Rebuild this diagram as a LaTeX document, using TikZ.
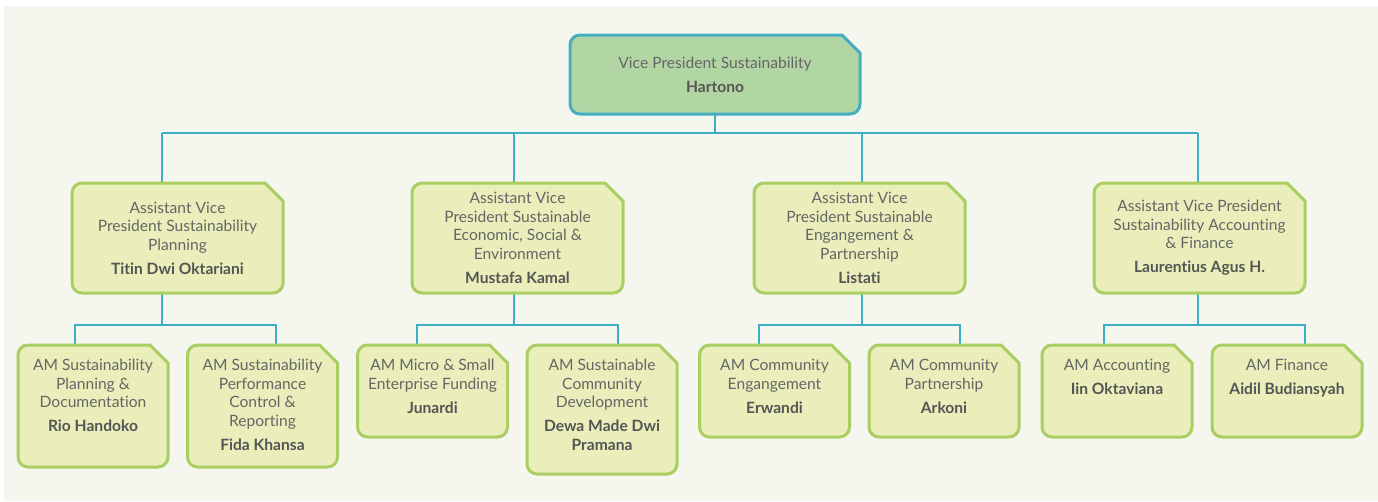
\documentclass[tikz,border=0pt]{standalone}
\usepackage{fontspec}
\setmainfont[Ligatures={NoCommon}]{Lato}
\definecolor{bgc}{HTML}{F5F7EF}
\definecolor{boxfill}{HTML}{E9EEBA}
\definecolor{boxdraw}{HTML}{AACE62}
\definecolor{topfill}{HTML}{B2D6A3}
\definecolor{topdraw}{HTML}{46AEC1}
\definecolor{connc}{HTML}{3DAFC4}
\definecolor{txtc}{HTML}{666666}
\definecolor{namec}{HTML}{555555}
\newcommand\chamferbox[2]{%
  \path[#2] (#1.west) -- ([yshift=-10pt]#1.north west)
    arc[start angle=180,end angle=90,radius=10pt]
    -- ([xshift=-18pt]#1.north east) -- ([yshift=-18pt]#1.north east)
    -- ([yshift=10pt]#1.south east)
    arc[start angle=0,end angle=-90,radius=10pt]
    -- ([xshift=10pt]#1.south west)
    arc[start angle=270,end angle=180,radius=10pt] -- cycle;}
\newcommand\nm[1]{{\bfseries\color{namec}#1}}
\begin{document}
\begin{tikzpicture}[x=1pt,y=-1pt,
  frame/.style={inner sep=0pt,outer sep=0pt,draw=none,minimum width=#1},
  frame/.default=150pt,
  greenbox/.style={fill=boxfill,draw=boxdraw,line width=3pt,line join=round},
  tealbox/.style={fill=topfill,draw=topdraw,line width=3pt,line join=round},
  conn/.style={draw=connc,line width=2.5pt},
  txt/.style={inner sep=0pt,align=center,text=txtc,font=\fontsize{15.6}{18.5}\selectfont}]
\useasboundingbox (0,0) rectangle (1378,501);
\fill[bgc] (4,6) rectangle (1378,501);
% box frames
\node[frame=290pt,minimum height=79pt] (top) at (715,74.5) {};
\node[frame=211pt,minimum height=110pt] (a1) at (177.5,238) {};
\node[frame=211pt,minimum height=110pt] (a2) at (517.5,238) {};
\node[frame=211pt,minimum height=110pt] (a3) at (859.5,238) {};
\node[frame=211pt,minimum height=110pt] (a4) at (1199.5,238) {};
\node[frame,minimum height=122pt] (c1) at (93,406) {};
\node[frame,minimum height=122pt] (c2) at (262.5,406) {};
\node[frame,minimum height=92pt] (c3) at (432.5,391) {};
\node[frame,minimum height=129pt] (c4) at (602,409.5) {};
\node[frame,minimum height=92pt] (c5) at (774.5,391) {};
\node[frame,minimum height=92pt] (c6) at (944,391) {};
\node[frame,minimum height=92pt] (c7) at (1117,391) {};
\node[frame,minimum height=92pt] (c8) at (1287,391) {};
% connectors
\coordinate (bus) at (715,133);
\coordinate (j1) at (162,133);
\coordinate (j2) at (514,133);
\coordinate (j3) at (862,133);
\coordinate (j4) at (1198,133);
\draw[conn] (top.south) -- (bus);
\draw[conn] (j1) -- (j4);
\draw[conn] (j1) -- (j1 |- a1.north);
\draw[conn] (j2) -- (j2 |- a2.north);
\draw[conn] (j3) -- (j3 |- a3.north);
\draw[conn] (j4) -- (j4 |- a4.north);
\coordinate (k1) at (162,325);
\coordinate (k2) at (514,325);
\coordinate (k3) at (862,325);
\coordinate (k4) at (1198,325);
\draw[conn] (k1 |- a1.south) -- (k1);
\draw[conn] (k2 |- a2.south) -- (k2);
\draw[conn] (k3 |- a3.south) -- (k3);
\draw[conn] (k4 |- a4.south) -- (k4);
\coordinate (l1) at (75,325);   \coordinate (r1) at (276,325);
\coordinate (l2) at (417,325);  \coordinate (r2) at (618,325);
\coordinate (l3) at (759,325);  \coordinate (r3) at (960,325);
\coordinate (l4) at (1104,325); \coordinate (r4) at (1305,325);
\draw[conn] (l1 |- c1.north) -- (l1) -- (r1) -- (r1 |- c2.north);
\draw[conn] (l2 |- c3.north) -- (l2) -- (r2) -- (r2 |- c4.north);
\draw[conn] (l3 |- c5.north) -- (l3) -- (r3) -- (r3 |- c6.north);
\draw[conn] (l4 |- c7.north) -- (l4) -- (r4) -- (r4 |- c8.north);
% boxes
\chamferbox{top}{tealbox}
\foreach \b in {a1,a2,a3,a4,c1,c2,c3,c4,c5,c6,c7,c8} {\chamferbox{\b}{greenbox}}
% texts
\node[txt] (topt) at (top.center) {Vice President Sustainability\\[5.5pt]\nm{Hartono}};
\node[txt] (a1t) at (a1.center) {Assistant Vice\\President Sustainability\\Planning\\[5.5pt]\nm{Titin Dwi Oktariani}};
\node[txt] (a2t) at (a2.center) {Assistant Vice\\President Sustainable\\Economic, Social \&\\Environment\\[5.5pt]\nm{Mustafa Kamal}};
\node[txt] (a3t) at (a3.center) {Assistant Vice\\President Sustainable\\Engangement \&\\Partnership\\[5.5pt]\nm{Listati}};
\node[txt] (a4t) at (a4.center) {Assistant Vice President\\Sustainability Accounting\\\& Finance\\[5.5pt]\nm{Laurentius Agus H.}};
\node[txt,anchor=north] (c1t) at ([yshift=-14.2pt]c1.north) {AM Sustainability\\Planning \&\\Documentation\\[5.5pt]\nm{Rio Handoko}};
\node[txt,anchor=north] (c2t) at ([yshift=-14.2pt]c2.north) {AM Sustainability\\Performance\\Control \&\\Reporting\\[5.5pt]\nm{Fida Khansa}};
\node[txt,anchor=north] (c3t) at ([yshift=-14.2pt]c3.north) {AM Micro \& Small\\Enterprise Funding\\[5.5pt]\nm{Junardi}};
\node[txt,anchor=north] (c4t) at ([yshift=-14.2pt]c4.north) {AM Sustainable\\Community\\Development\\[5.5pt]\nm{Dewa Made Dwi}\\\nm{Pramana}};
\node[txt,anchor=north] (c5t) at ([yshift=-14.2pt]c5.north) {AM Community\\Engangement\\[5.5pt]\nm{Erwandi}};
\node[txt,anchor=north] (c6t) at ([yshift=-14.2pt]c6.north) {AM Community\\Partnership\\[5.5pt]\nm{Arkoni}};
\node[txt,anchor=north] (c7t) at ([yshift=-14.2pt]c7.north) {AM Accounting\\[5.5pt]\nm{Iin Oktaviana}};
\node[txt,anchor=north] (c8t) at ([yshift=-14.2pt]c8.north) {AM Finance\\[5.5pt]\nm{Aidil Budiansyah}};
\end{tikzpicture}
\end{document}
